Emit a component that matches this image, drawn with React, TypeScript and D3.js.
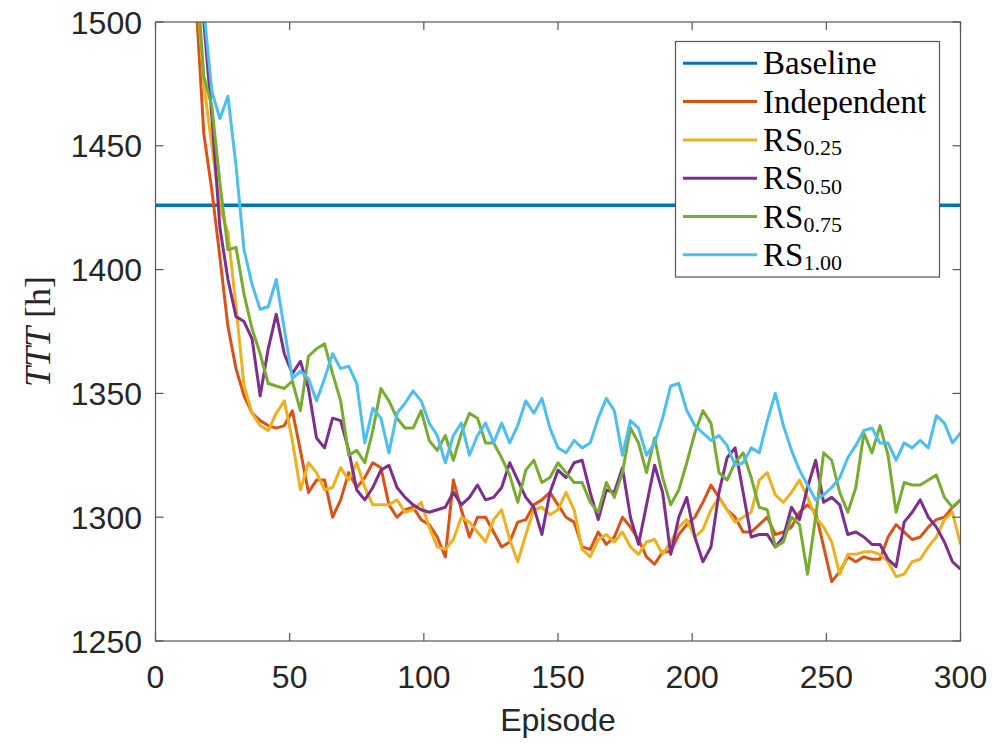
import React from "react";
import * as d3 from "d3";

// episodes sampled every 3 (0..300)
const episodes = d3.range(0, 301, 3);

const baselineTTT = 1426;

const independent = [
  1620, 1600, 1580, 1560, 1535, 1510, 1455, 1432, 1405, 1377,
  1360, 1349, 1342, 1339, 1337, 1336, 1337, 1343, 1327, 1310,
  1315, 1315, 1300, 1307, 1318, 1312, 1316, 1322, 1320, 1305,
  1300, 1303, 1304, 1299, 1297, 1292, 1284, 1315, 1303, 1292,
  1300, 1300, 1294, 1288, 1290, 1298, 1299, 1305, 1307, 1310,
  1305, 1300, 1298, 1288, 1287, 1294, 1289, 1292, 1300, 1296,
  1291, 1284, 1281, 1286, 1286, 1293, 1297, 1300, 1306, 1313,
  1308, 1303, 1300, 1294, 1294, 1297, 1300, 1293, 1294, 1296,
  1302, 1305, 1302, 1288, 1274, 1278, 1284, 1282, 1284, 1283,
  1283, 1292, 1297, 1294, 1291, 1292, 1296, 1299, 1300, 1304,
  1307,
];

const rs025 = [
  1630, 1610, 1590, 1570, 1545, 1520, 1475, 1450, 1425, 1415,
  1385, 1353, 1342, 1337, 1335, 1342, 1347, 1331, 1311, 1322,
  1318, 1311, 1312, 1320, 1315, 1322, 1312, 1305, 1305, 1305,
  1307, 1302, 1303, 1306, 1296, 1288, 1287, 1291, 1300, 1298,
  1294, 1290, 1299, 1303, 1291, 1282, 1293, 1303, 1304, 1301,
  1303, 1310, 1303, 1287, 1284, 1291, 1293, 1290, 1294, 1288,
  1285, 1290, 1291, 1285, 1290, 1296, 1299, 1292, 1295, 1303,
  1308, 1303, 1298, 1300, 1302, 1315, 1318, 1309, 1306, 1310,
  1315, 1308, 1300, 1296, 1290, 1277, 1285, 1285, 1286, 1286,
  1285, 1282, 1276, 1277, 1282, 1283, 1288, 1292, 1299, 1302,
  1289,
];

const rs050 = [
  1650, 1630, 1610, 1590, 1565, 1540, 1500, 1462, 1417, 1396,
  1381, 1379, 1372, 1349, 1368, 1382, 1366, 1358, 1363, 1352,
  1332, 1328, 1340, 1339, 1327, 1311, 1307, 1312, 1319, 1321,
  1312, 1308, 1305, 1303, 1302, 1303, 1304, 1310, 1305, 1308,
  1313, 1307, 1308, 1312, 1322, 1315, 1308, 1304, 1293, 1310,
  1319, 1316, 1322, 1323, 1310, 1299, 1311, 1310, 1320, 1300,
  1289, 1305, 1321, 1310, 1285, 1300, 1308, 1292, 1282, 1288,
  1310, 1324, 1328, 1310, 1292, 1293, 1293, 1288, 1292, 1304,
  1299, 1312, 1323, 1306, 1308, 1305, 1293, 1294, 1292, 1289,
  1289, 1283, 1280, 1298, 1302, 1307, 1300, 1296, 1290, 1282,
  1279,
];

const rs075 = [
  1640, 1620, 1600, 1575, 1550, 1525, 1478, 1466, 1435, 1408,
  1409, 1390, 1376, 1366, 1354, 1353, 1352, 1355, 1343, 1365,
  1368, 1370, 1358, 1347, 1325, 1327, 1322, 1335, 1352, 1347,
  1340, 1336, 1336, 1343, 1331, 1327, 1333, 1323, 1334, 1342,
  1340, 1330, 1330, 1324, 1317, 1306, 1319, 1323, 1314, 1316,
  1322, 1318, 1314, 1314, 1306, 1302, 1314, 1308, 1318, 1336,
  1330, 1318, 1332, 1316, 1305, 1311, 1322, 1334, 1343, 1338,
  1318, 1315, 1322, 1326, 1316, 1304, 1303, 1288, 1290, 1300,
  1297, 1277, 1300, 1326, 1323, 1310, 1302, 1312, 1334, 1326,
  1337, 1325, 1302, 1314, 1313, 1313, 1315, 1317, 1308, 1304,
  1307,
];

const rs100 = [
  1660, 1640, 1620, 1600, 1575, 1545, 1505, 1472, 1461, 1470,
  1442, 1408, 1394, 1384, 1385, 1396, 1376, 1356, 1359, 1356,
  1347, 1356, 1366, 1360, 1361, 1354, 1330, 1344, 1340, 1326,
  1342, 1346, 1351, 1347, 1338, 1333, 1322, 1333, 1338, 1325,
  1333, 1338, 1330, 1338, 1330, 1337, 1347, 1342, 1348, 1336,
  1328, 1326, 1331, 1328, 1330, 1340, 1348, 1343, 1325, 1339,
  1336, 1325, 1330, 1340, 1353, 1354, 1343, 1337, 1334, 1331,
  1333, 1329, 1321, 1322, 1328, 1326, 1339, 1350, 1337, 1327,
  1319, 1313, 1307, 1309, 1312, 1316, 1324, 1329, 1335, 1336,
  1330, 1330, 1323, 1330, 1328, 1331, 1328, 1341, 1338, 1330,
  1334,
];

const xTicks = [0, 50, 100, 150, 200, 250, 300];
const yTicks = [1250, 1300, 1350, 1400, 1450, 1500];

const series = [
  { name: "Independent", sub: "", values: independent, color: "#D95319" },
  { name: "RS", sub: "0.25", values: rs025, color: "#EDB120" },
  { name: "RS", sub: "0.50", values: rs050, color: "#7E2F8E" },
  { name: "RS", sub: "0.75", values: rs075, color: "#77AC30" },
  { name: "RS", sub: "1.00", values: rs100, color: "#4DBEEE" },
];

const legendItems = [
  { name: "Baseline", sub: "", color: "#0072BD" },
  ...series.map((s) => ({ name: s.name, sub: s.sub, color: s.color })),
];

export default function App() {
  const left = 155.5, right = 960.5, top = 22, bottom = 641;
  const x = d3.scaleLinear().domain([0, 300]).range([left, right]);
  const y = d3.scaleLinear().domain([1250, 1500]).range([bottom, top]);
  const line = d3
    .line<number>()
    .x((_, i) => x(episodes[i]))
    .y((d) => y(d));

  const axisColor = "#555";
  const tickLen = 8;
  const sans = "'Liberation Sans', Arial, sans-serif";
  const serif = "'Liberation Serif', 'Times New Roman', serif";

  return (
    <div style={{ position: "fixed", left: 0, top: 0 }}>
      <svg width={992} height={743} style={{ display: "block", background: "#fff" }}>
        <defs>
          <clipPath id="plotClip">
            <rect x={left} y={top} width={right - left} height={bottom - top} />
          </clipPath>
        </defs>

        <g clipPath="url(#plotClip)">
          <line
            x1={x(0)}
            x2={x(300)}
            y1={y(baselineTTT)}
            y2={y(baselineTTT)}
            stroke="#0072BD"
            strokeWidth={3.5}
          />
          {series.map((s, i) => (
            <path
              key={i}
              d={line(s.values) || ""}
              fill="none"
              stroke={s.color}
              strokeWidth={3}
              strokeLinejoin="round"
            />
          ))}
        </g>

        {/* axes box */}
        <rect
          x={left}
          y={top}
          width={right - left}
          height={bottom - top}
          fill="none"
          stroke={axisColor}
          strokeWidth={1.2}
        />
        {xTicks.map((t) => (
          <g key={"x" + t}>
            <line x1={x(t)} x2={x(t)} y1={bottom} y2={bottom - tickLen} stroke={axisColor} strokeWidth={1.2} />
            <line x1={x(t)} x2={x(t)} y1={top} y2={top + tickLen} stroke={axisColor} strokeWidth={1.2} />
            <text
              x={x(t)}
              y={688}
              textAnchor="middle"
              fontFamily={sans}
              fontSize={32}
              fill="#262626"
            >
              {t}
            </text>
          </g>
        ))}
        {yTicks.map((t) => (
          <g key={"y" + t}>
            <line x1={left} x2={left + tickLen} y1={y(t)} y2={y(t)} stroke={axisColor} strokeWidth={1.2} />
            <line x1={right} x2={right - tickLen} y1={y(t)} y2={y(t)} stroke={axisColor} strokeWidth={1.2} />
            <text
              x={142}
              y={y(t) + 11.5}
              textAnchor="end"
              fontFamily={sans}
              fontSize={32}
              fill="#262626"
            >
              {t}
            </text>
          </g>
        ))}

        <text
          x={(left + right) / 2}
          y={731}
          textAnchor="middle"
          fontFamily={sans}
          fontSize={32}
          fill="#262626"
        >
          Episode
        </text>

        <text
          transform={`translate(50, ${(top + bottom) / 2}) rotate(-90)`}
          textAnchor="middle"
          fontFamily={serif}
          fontSize={36}
          fill="#262626"
        >
          <tspan fontStyle="italic">TTT</tspan>
          <tspan> [h]</tspan>
        </text>

        {/* legend */}
        <rect x={675.5} y={41.5} width={264} height={235.5} fill="#fff" stroke={axisColor} strokeWidth={1.2} />
        {legendItems.map((it, i) => {
          const ry = 63.3 + i * 38.3;
          return (
            <g key={"l" + i}>
              <line x1={683} x2={757} y1={ry} y2={ry} stroke={it.color} strokeWidth={3} />
              <text x={763} y={ry + 11} fontFamily={serif} fontSize={33} fill="#000">
                {it.name}
                {it.sub && (
                  <tspan fontSize={22} dy={4.5}>
                    {it.sub}
                  </tspan>
                )}
              </text>
            </g>
          );
        })}
      </svg>
    </div>
  );
}
